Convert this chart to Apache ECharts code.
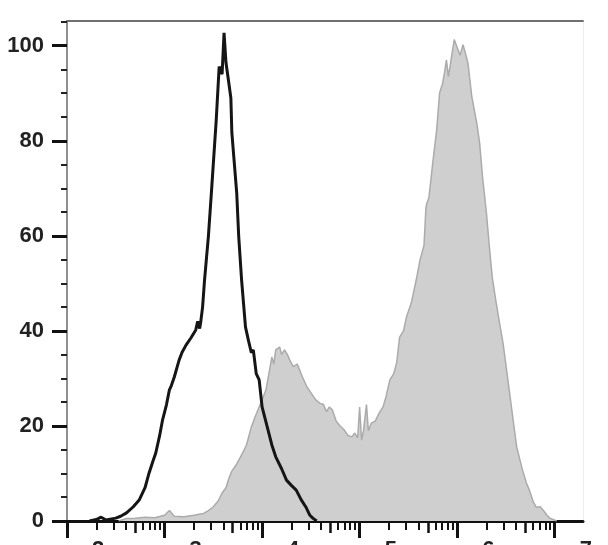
<!DOCTYPE html>
<html>
<head>
<meta charset="utf-8">
<script src="https://cdn.jsdelivr.net/npm/echarts@6/dist/echarts.min.js"></script>
<style>
html,body{margin:0;padding:0;background:#fff;}
#chart{width:608px;height:545px;}
</style>
</head>
<body>
<div id="chart"></div>
<script>
// x values are log10 of fluorescence intensity (decade exponent), y values are % of max
const xTickExponents = [2, 3, 4, 5, 6, 7];
const yTicks = [0, 20, 40, 60, 80, 100];

const sampleHistogram = [
  [2.53,0],[2.6,0.5],[2.7,0.6],[2.8,0.8],[2.9,0.7],[3.0,1.2],[3.05,2.2],[3.1,1.0],[3.2,0.9],[3.3,1.2],
  [3.4,1.6],[3.45,2.2],[3.5,3],[3.55,4.2],[3.59,5.9],[3.63,7],[3.66,9],[3.69,10.5],[3.74,12],[3.8,14.3],
  [3.84,16],[3.89,19.8],[3.93,22],[3.97,24],[4.0,25.5],[4.04,27.6],[4.07,31],[4.1,34.5],[4.12,33],[4.14,36],
  [4.18,36.6],[4.2,35],[4.23,36],[4.26,35],[4.28,34],[4.32,32.5],[4.36,33],[4.38,32],[4.42,30],[4.46,28.2],
  [4.5,27],[4.55,25.5],[4.59,24.8],[4.63,24.5],[4.66,23],[4.69,24],[4.72,23.4],[4.76,21],[4.8,20],[4.84,19.2],
  [4.88,18],[4.92,17.7],[4.95,18.5],[4.98,17.5],[5.0,24],[5.02,17],[5.04,19],[5.07,24.5],[5.09,19],[5.12,20.6],
  [5.16,21],[5.2,22.7],[5.24,24],[5.27,26.1],[5.31,29.7],[5.35,31],[5.38,33.3],[5.41,38.7],[5.45,40],[5.48,42.9],
  [5.53,45.9],[5.58,50.7],[5.62,55],[5.66,58],[5.68,66],[5.69,66.9],[5.71,68],[5.75,75.4],[5.79,82.3],[5.82,90.1],
  [5.85,92],[5.87,94.3],[5.89,97],[5.91,93.5],[5.93,96],[5.97,101.3],[6.0,99.6],[6.03,98],[6.06,100.2],[6.09,98],
  [6.11,96.4],[6.15,89.3],[6.2,83.8],[6.23,79.6],[6.26,72.4],[6.3,64.8],[6.33,57.7],[6.36,51.2],[6.4,45.9],[6.44,41],
  [6.47,37.5],[6.51,31.2],[6.56,23.4],[6.61,15.6],[6.67,10.7],[6.71,8],[6.74,6.5],[6.78,4],[6.81,2.9],[6.85,3],
  [6.88,2.3],[6.92,1.2],[6.95,0.6],[7.02,0]
];

const controlHistogram = [
  [2.23,0],[2.3,0.3],[2.35,0.8],[2.4,0.2],[2.5,0.6],[2.55,1.0],[2.61,1.7],[2.68,3],[2.74,4.4],[2.8,7],
  [2.84,10],[2.88,12.5],[2.91,14.3],[2.95,18],[2.98,21.3],[3.02,24.5],[3.05,27.6],[3.07,28.5],[3.1,30.3],[3.15,33.9],
  [3.18,35.5],[3.22,37],[3.27,38.5],[3.32,40.2],[3.34,42],[3.36,40.5],[3.37,41.7],[3.39,45],[3.41,50.7],[3.45,60],
  [3.48,69],[3.53,84.4],[3.56,95.6],[3.59,94],[3.61,102.7],[3.63,96.4],[3.66,92],[3.68,89],[3.69,81.7],[3.74,69],
  [3.76,60],[3.79,50.7],[3.83,40.8],[3.86,38],[3.89,35.4],[3.91,36],[3.94,31],[3.97,29.7],[4.0,24],[4.06,19.2],
  [4.1,16],[4.14,13.5],[4.2,11],[4.25,8.6],[4.3,7.5],[4.35,6.5],[4.4,4.5],[4.45,2.9],[4.49,1.2],[4.52,0.6],[4.56,0]
];

const X_MIN = 2, X_MAX = 7.29;
const Y_MAX = 105.2;

const minorTicks = [], midTicks = [];
for (let n = 2; n <= 7; n++) {
  for (let k = 2; k <= 9; k++) {
    const v = n + Math.log10(k);
    if (v > X_MAX) continue;
    if (k === 5) midTicks.push(v); else minorTicks.push(v);
  }
}

const chart = echarts.init(document.getElementById('chart'), null, {renderer: 'canvas'});
const labelFont = {fontFamily: '"Liberation Sans", Arial, sans-serif', fontSize: 22, fontWeight: 'bold', color: '#222'};

chart.setOption({
  animation: false,
  backgroundColor: '#fff',
  grid: {left: 67, right: 25, top: 21, bottom: 24, containLabel: false, outerBoundsMode: 'none'},
  xAxis: [
    {
      type: 'value', min: X_MIN, max: X_MAX, position: 'bottom', gridIndex: 0,
      axisLine: {show: true, onZero: false, lineStyle: {color: '#111', width: 3}},
      axisTick: {show: true, inside: false, length: 17, customValues: xTickExponents, lineStyle: {color: '#111', width: 3}},
      axisLabel: Object.assign({show: true, customValues: xTickExponents, margin: 18, align: 'left', padding: [0,0,0,25],
        formatter: v => String(Math.round(v))}, labelFont),
      splitLine: {show: false}
    },
    {
      type: 'value', min: X_MIN, max: X_MAX, position: 'bottom', gridIndex: 0,
      axisLine: {show: false, onZero: false},
      axisTick: {show: true, length: 9, customValues: minorTicks, lineStyle: {color: '#111', width: 2}},
      axisLabel: {show: false}, splitLine: {show: false}
    },
    {
      type: 'value', min: X_MIN, max: X_MAX, position: 'bottom', gridIndex: 0,
      axisLine: {show: false, onZero: false},
      axisTick: {show: true, length: 12, customValues: midTicks, lineStyle: {color: '#111', width: 2.5}},
      axisLabel: {show: false}, splitLine: {show: false}
    },
    {
      type: 'value', min: X_MIN, max: X_MAX, position: 'top', gridIndex: 0,
      axisLine: {show: true, onZero: false, lineStyle: {color: '#707070', width: 2}},
      axisTick: {show: false}, axisLabel: {show: false}, splitLine: {show: false}
    }
  ],
  yAxis: [
    {
      type: 'value', min: 0, max: Y_MAX, interval: 20, position: 'left',
      axisLine: {show: true, onZero: false, lineStyle: {color: '#6a6a6a', width: 1.5}},
      axisTick: {show: true, length: 15, customValues: yTicks, lineStyle: {color: '#111', width: 3}},
      minorTick: {show: true, splitNumber: 4, length: 6, lineStyle: {color: '#222', width: 2}},
      axisLabel: Object.assign({show: true, customValues: yTicks, margin: 23}, labelFont),
      splitLine: {show: false}
    },
    {
      type: 'value', min: 0, max: Y_MAX, position: 'right',
      axisLine: {show: true, onZero: false, lineStyle: {color: '#ececec', width: 1}},
      axisTick: {show: false}, axisLabel: {show: false}, splitLine: {show: false}
    }
  ],
  series: [
    {
      name: 'Stained', type: 'line', xAxisIndex: 0, yAxisIndex: 0,
      data: sampleHistogram, symbol: 'none', smooth: false, z: 2,
      lineStyle: {color: '#ababab', width: 1.5},
      areaStyle: {color: '#cfcfcf', opacity: 1}
    },
    {
      name: 'Control', type: 'line', xAxisIndex: 0, yAxisIndex: 0,
      data: controlHistogram, symbol: 'none', smooth: false, z: 3,
      lineStyle: {color: '#151515', width: 3}
    }
  ]
});
</script>
</body>
</html>
